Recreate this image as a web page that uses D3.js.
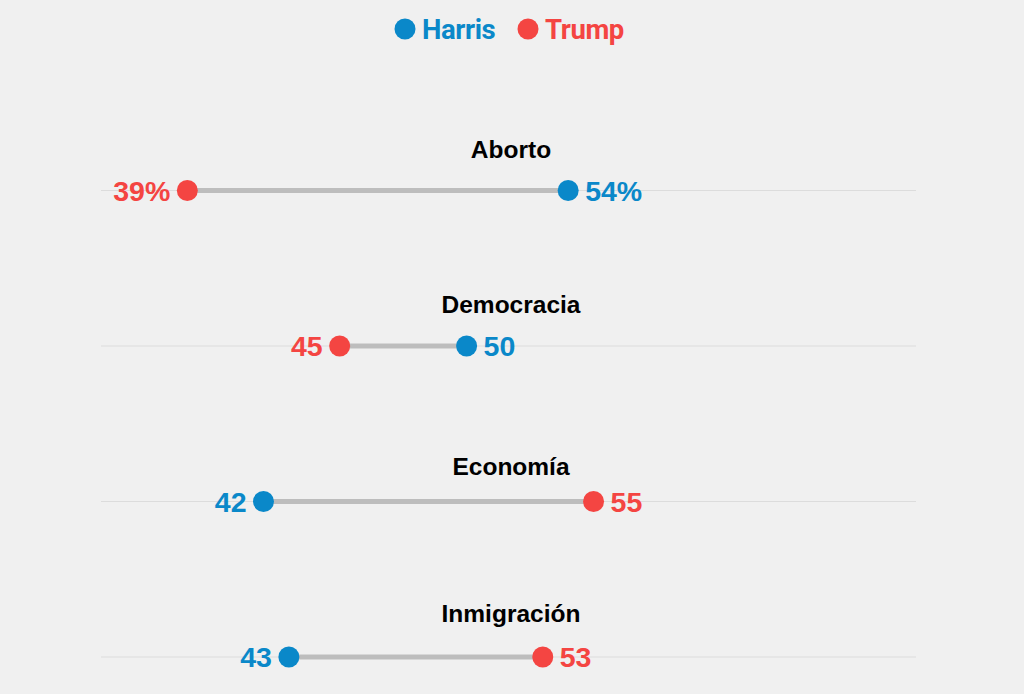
<!DOCTYPE html>
<html>
<head>
<meta charset="utf-8">
<script src="https://cdn.jsdelivr.net/npm/d3@7"></script>
<style>
  html, body { margin: 0; padding: 0; background: #f0f0f0; }
  svg { display: block; }
</style>
</head>
<body>
<svg id="chart" width="1024" height="694"></svg>
<script>
const topics = ["Aborto", "Democracia", "Economía", "Inmigración"];
const harris = [54, 50, 42, 43];
const trump = [39, 45, 55, 53];
const showPct = [true, false, false, false];
const seriesNames = ["Harris", "Trump"];

const colors = { Harris: "#0a88c9", Trump: "#f44542" };

const svg = d3.select("#chart");

const x = d3.scaleLinear().domain([35.6, 67.7]).range([101, 916]);
const y = d3.scalePoint().domain(topics).range([190.5, 657]);
const titleOffset = [41, 41, 35, 43];

// Legend
const legend = svg.append("g").attr("class", "legend");
const legendX = { Harris: 405, Trump: 528 };
seriesNames.forEach(name => {
  const g = legend.append("g").attr("transform", `translate(${legendX[name]},29)`);
  g.append("circle").attr("r", 10.5).attr("fill", colors[name]);
  g.append("text")
    .attr("x", 17).attr("y", 9.5)
    .attr("font-family", "Roboto, 'Liberation Sans', sans-serif")
    .attr("font-weight", 700)
    .attr("font-size", 27.5)
    .attr("letter-spacing", -0.4)
    .attr("fill", colors[name])
    .text(name);
});

const rows = topics.map((t, i) => ({ topic: t, harris: harris[i], trump: trump[i], pct: showPct[i], i }));

const row = svg.selectAll("g.row").data(rows).join("g").attr("class", "row");

row.append("line")
  .attr("x1", x.range()[0]).attr("x2", x.range()[1])
  .attr("y1", d => y(d.topic)).attr("y2", d => y(d.topic))
  .attr("stroke", "#dcdcdc").attr("stroke-width", 1);

row.append("text")
  .attr("x", 511)
  .attr("y", d => y(d.topic) - titleOffset[d.i] + 8)
  .attr("text-anchor", "middle")
  .attr("font-family", "'Liberation Sans', Arial, sans-serif")
  .attr("font-weight", 700)
  .attr("font-size", 24.5)
  .attr("fill", "#000")
  .text(d => d.topic);

row.append("line")
  .attr("x1", d => x(Math.min(d.harris, d.trump)))
  .attr("x2", d => x(Math.max(d.harris, d.trump)))
  .attr("y1", d => y(d.topic)).attr("y2", d => y(d.topic))
  .attr("stroke", "#bdbdbd").attr("stroke-width", 5);

row.each(function(d) {
  const g = d3.select(this);
  const cy = y(d.topic);
  const pts = [
    { name: "Harris", v: d.harris },
    { name: "Trump", v: d.trump }
  ];
  const maxV = Math.max(d.harris, d.trump);
  pts.forEach(p => {
    const cx = x(p.v);
    g.append("circle")
      .attr("cx", cx).attr("cy", cy).attr("r", 10.5)
      .attr("fill", colors[p.name]);
    const isRight = p.v === maxV;
    g.append("text")
      .attr("x", isRight ? cx + 17 : cx - 17)
      .attr("y", cy + 10)
      .attr("text-anchor", isRight ? "start" : "end")
      .attr("font-family", "'Liberation Sans', Arial, sans-serif")
      .attr("font-weight", 700)
      .attr("font-size", 28.5)
      .attr("fill", colors[p.name])
      .text(p.v + (d.pct ? "%" : ""));
  });
});
</script>
</body>
</html>
